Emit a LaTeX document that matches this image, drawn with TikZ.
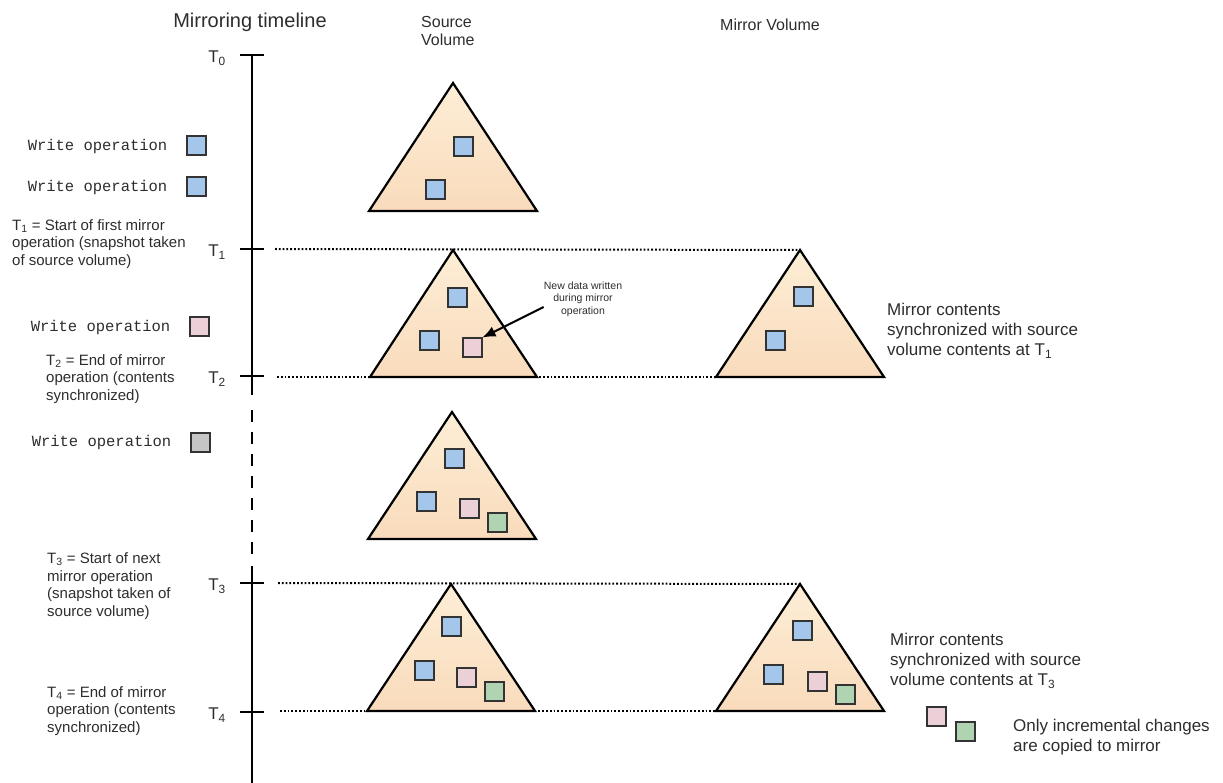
\documentclass[tikz,border=0pt]{standalone}
\usepackage{fontspec}
\setmainfont{Liberation Sans}
\setmonofont{Liberation Mono}
\usepackage{tikz}
\usetikzlibrary{arrows.meta, positioning, calc}

\definecolor{peachtop}{RGB}{253,238,214}
\definecolor{peachbot}{RGB}{249,219,188}
\definecolor{blkblue}{RGB}{165,198,235}
\definecolor{blkpink}{RGB}{236,208,216}
\definecolor{blkgreen}{RGB}{176,212,178}
\definecolor{blkgray}{RGB}{198,198,198}
\definecolor{ink}{RGB}{45,45,45}

\begin{document}
\begin{tikzpicture}[x=1pt, y=-1pt, text=ink,
    vol/.style={draw=black, line width=2.2pt, line join=miter, top color=peachtop, bottom color=peachbot},
    blk/.style={draw=black!80, line width=2pt, minimum size=19pt, inner sep=0pt},
    axis/.style={line width=2.6pt},
    tick/.style={line width=2.2pt},
    sync/.style={line width=2pt, dash pattern=on 1.8pt off 2pt},
    tlab/.style={font=\fontsize{17}{20}\selectfont, inner sep=0pt, yshift=-3pt},
    note/.style={align=left, font=\fontsize{15}{17.5}\selectfont, inner sep=0pt},
    rnote/.style={align=left, font=\fontsize{17}{20}\selectfont, inner sep=0pt},
    wop/.style={font=\ttfamily\fontsize{15.5}{18}\selectfont, inner sep=0pt}]
    \useasboundingbox (0,0) rectangle (1223,783);

    % headings
    \node[font=\fontsize{20}{23}\selectfont] (head-time) at (250,22) {Mirroring timeline};
    \node[align=left, anchor=west, font=\fontsize{16}{18}\selectfont, inner sep=0pt] (head-src) at (421,31) {Source\\Volume};
    \node[anchor=west, font=\fontsize{16}{18}\selectfont, inner sep=0pt] (head-mir) at (720,25) {Mirror Volume};

    % timeline
    \coordinate (t0) at (252,55);
    \coordinate (t1) at (252,249);
    \coordinate (t2) at (252,376);
    \coordinate (t3) at (252,583);
    \coordinate (t4) at (252,712);
    \coordinate (tend) at (252,783);
    \draw[axis] (t0) -- (252,395);
    \draw[axis, dash pattern=on 12pt off 10pt] (252,410) -- (252,560);
    \draw[axis] (252,566) -- (tend);
    \draw[tick] (t0) ++(-12,0) -- ++(24,0);
    \draw[tick] (t1) ++(-12,0) -- ++(24,0);
    \draw[tick] (t2) ++(-12,0) -- ++(24,0);
    \draw[tick] (t3) ++(-12,0) -- ++(24,0);
    \draw[tick] (t4) ++(-12,0) -- ++(24,0);

    \node[tlab, left=26pt of t0] (l0) {T\textsubscript{0}};
    \node[tlab, left=26pt of t1] (l1) {T\textsubscript{1}};
    \node[tlab, left=26pt of t2] (l2) {T\textsubscript{2}};
    \node[tlab, left=26pt of t3] (l3) {T\textsubscript{3}};
    \node[tlab, left=26pt of t4] (l4) {T\textsubscript{4}};

    % write operations
    \node[blk, fill=blkblue] (w1) at (196,146) {};
    \node[blk, fill=blkblue] (w2) at (196,187) {};
    \node[blk, fill=blkpink] (w3) at (199,327) {};
    \node[blk, fill=blkgray] (w4) at (200,442) {};
    \node[wop, left=18pt of w1] (w1-lab) {Write operation};
    \node[wop, left=18pt of w2] (w2-lab) {Write operation};
    \node[wop, left=18pt of w3] (w3-lab) {Write operation};
    \node[wop, left=18pt of w4] (w4-lab) {Write operation};

    % notes on the timeline
    \node[note, anchor=west] (n1) at (12,244) {T\textsubscript{1} = Start of first mirror\\operation (snapshot taken\\of source volume)};
    \node[note, anchor=west] (n2) at (46,379) {T\textsubscript{2} = End of mirror\\operation (contents\\synchronized)};
    \node[note, anchor=west] (n3) at (47,586) {T\textsubscript{3} = Start of next\\mirror operation\\(snapshot taken of\\source volume)};
    \node[note, anchor=west] (n4) at (47,711) {T\textsubscript{4} = End of mirror\\operation (contents\\synchronized)};

    % source volume at T0
    \draw[vol] (453,83) coordinate (src0-top) -- (537,211) coordinate (src0-r) -- (369,211) coordinate (src0-l) -- cycle;
    \node[blk, fill=blkblue] (src0-a) at (463,147) {};
    \node[blk, fill=blkblue] (src0-b) at (435,190) {};

    % source and mirror volume at T1/T2
    \draw[vol] (453,250) coordinate (src1-top) -- (537,377) coordinate (src1-r) -- (370,377) coordinate (src1-l) -- cycle;
    \node[blk, fill=blkblue] (src1-a) at (457,298) {};
    \node[blk, fill=blkblue] (src1-b) at (429,341) {};
    \node[blk, fill=blkpink] (src1-c) at (472,348) {};

    \draw[vol] (800,250) coordinate (mir1-top) -- (884,377) coordinate (mir1-r) -- (716,377) coordinate (mir1-l) -- cycle;
    \node[blk, fill=blkblue] (mir1-a) at (803,297) {};
    \node[blk, fill=blkblue] (mir1-b) at (775,341) {};

    \node[align=center, font=\fontsize{10.5}{12.5}\selectfont, inner sep=0pt] (newdata) at (583,299) {New data written\\during mirror\\operation};
    \draw[line width=2pt, -{Latex[length=13pt, width=11pt]}] ([yshift=-8pt]newdata.west) -- (src1-c.north east);

    % source volume between mirrors
    \draw[vol] (452,412) coordinate (src2-top) -- (536,539) coordinate (src2-r) -- (368,539) coordinate (src2-l) -- cycle;
    \node[blk, fill=blkblue] (src2-a) at (454,458) {};
    \node[blk, fill=blkblue] (src2-b) at (426,501) {};
    \node[blk, fill=blkpink] (src2-c) at (469,508) {};
    \node[blk, fill=blkgreen] (src2-d) at (497,522) {};

    % source and mirror volume at T3/T4
    \draw[vol] (451,584) coordinate (src3-top) -- (535,711) coordinate (src3-r) -- (367,711) coordinate (src3-l) -- cycle;
    \node[blk, fill=blkblue] (src3-a) at (451,626) {};
    \node[blk, fill=blkblue] (src3-b) at (424,670) {};
    \node[blk, fill=blkpink] (src3-c) at (466,677) {};
    \node[blk, fill=blkgreen] (src3-d) at (494,691) {};

    \draw[vol] (800,584) coordinate (mir3-top) -- (884,711) coordinate (mir3-r) -- (716,711) coordinate (mir3-l) -- cycle;
    \node[blk, fill=blkblue] (mir3-a) at (802,630) {};
    \node[blk, fill=blkblue] (mir3-b) at (773,674) {};
    \node[blk, fill=blkpink] (mir3-c) at (817,681) {};
    \node[blk, fill=blkgreen] (mir3-d) at (845,694) {};

    % dotted sync lines
    \coordinate (s1) at (275,249);
    \coordinate (s2) at (277,377);
    \coordinate (s3) at (278,583);
    \coordinate (s4) at (280,711);
    \draw[sync] (s1) -- (mir1-top);
    \draw[sync] (s2) -- (mir1-l);
    \draw[sync] (s3) -- (mir3-top);
    \draw[sync] (s4) -- (mir3-l);

    % right notes
    \node[rnote, anchor=west] (r1) at (887,331) {Mirror contents\\synchronized with source\\volume contents at T\textsubscript{1}};
    \node[rnote, anchor=west] (r2) at (890,661) {Mirror contents\\synchronized with source\\volume contents at T\textsubscript{3}};
    \node[blk, fill=blkpink] (inc-a) at (936,716) {};
    \node[blk, fill=blkgreen] (inc-b) at (965,731) {};
    \node[rnote, anchor=west] (r3) at (1013,737) {Only incremental changes\\are copied to mirror};
\end{tikzpicture}
\end{document}
